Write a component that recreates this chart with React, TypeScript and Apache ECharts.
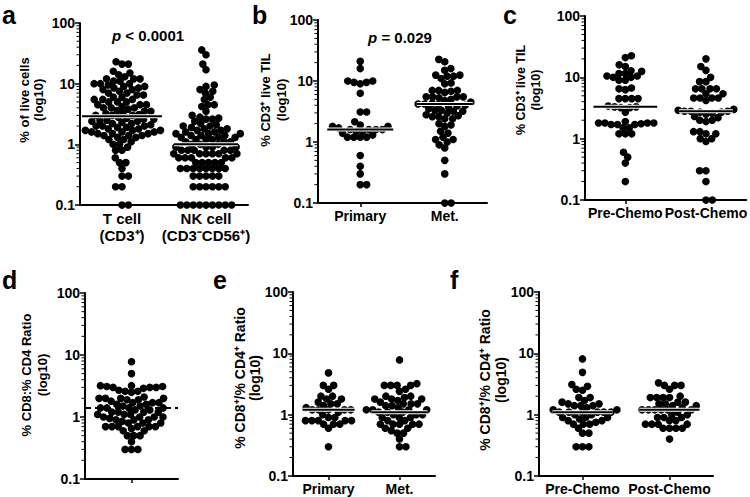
import React, { useEffect, useRef } from "react";
import * as echarts from "echarts";

const FONT = "'Liberation Sans', Arial, Helvetica, sans-serif";

// ---------- data ----------
// Panel a: % of live cells
const catsA = ["T cell\n(CD3⁺)", "NK cell\n(CD3⁻CD56⁺)"];
const aTcell = [23, 21, 21, 16, 15, 14, 13, 12, 12, 12, 11, 11, 10, 10, 10, 9.5, 9, 9, 8.5, 8.5, 8, 8, 7.5, 7, 7, 6.5, 6.5, 6, 6, 5.5, 5.5, 5.5, 5, 5, 5, 4.5, 4.5, 4.5, 4.2, 4, 4, 4, 3.8, 3.6, 3.5, 3.5, 3.3, 3.2, 3.1, 3, 3, 3,
  2.8, 2.7, 2.6, 2.6, 2.5, 2.5, 2.4, 2.4, 2.3, 2.2, 2.2, 2.1, 2, 2, 2, 1.9, 1.9, 1.8, 1.8, 1.8, 1.7, 1.7, 1.7, 1.6, 1.6, 1.6, 1.5, 1.5, 1.5, 1.4, 1.4, 1.4, 1.3, 1.3, 1.2, 1.2, 1.1, 1.0, 1.0, 0.9, 0.8, 0.8, 0.6, 0.5, 0.5, 0.4, 0.3, 0.3, 0.2, 0.2, 0.1, 0.1];
const aNK = [36, 30, 21, 17, 9.5, 9, 8, 7.5, 7, 6, 5.5, 4.5, 4.5, 4.2, 3.5, 3, 2.8, 2.7, 2.6, 2.6, 2.4, 2.2, 2.1, 2, 2, 1.9, 1.8, 1.8, 1.7, 1.7, 1.6, 1.6, 1.5, 1.5, 1.5, 1.4, 1.4, 1.4, 1.3, 1.3, 1.3, 1.2, 1.2, 1.2, 1.1, 1.1, 1.1, 1.0, 1.0, 1.0,
  0.9, 0.9, 0.9, 0.9, 0.8, 0.8, 0.8, 0.8, 0.8, 0.7, 0.7, 0.7, 0.7, 0.7, 0.7, 0.6, 0.6, 0.6, 0.6, 0.6, 0.5, 0.5, 0.5, 0.5, 0.5, 0.4, 0.4, 0.4, 0.4, 0.4, 0.4, 0.4, 0.4, 0.3, 0.3, 0.3, 0.3, 0.3, 0.2, 0.2, 0.2, 0.2, 0.2, 0.2, 0.1, 0.1, 0.1, 0.1, 0.1, 0.1, 0.1, 0.1, 0.1];
const medA = [2.9, 1.0];

// Panel b: % CD3+ live TIL, Primary vs Met.
const catsB = ["Primary", "Met."];
const bPrimary = [21, 16, 10, 10, 9.5, 9.5, 9, 6.3, 3.1, 3.1, 2.15, 1.9, 1.8, 1.8, 1.7, 1.6, 1.6, 1.6, 1.6, 1.5, 1.5, 1.4, 1.3, 1.2, 1.2, 1.2, 1.2, 0.6, 0.4, 0.3, 0.2, 0.2];
const bMet = [22.6, 20.7, 16, 15, 12.5, 12.5, 12, 12, 11, 9.3, 9, 7, 7, 7, 6.8, 6.5, 5.5, 5.5, 5.5, 5.5, 5.3, 5, 4.8, 4.5, 4.3, 4.2, 4.2, 4.1, 4, 3.9, 3.8, 3.5, 3.3, 3.3, 3.2, 3.2, 3, 2.8, 2.7, 2.6, 2.6, 2.4, 2.4, 2, 1.9, 1.8, 1.5, 1.4, 1.2, 1.1, 1.1, 1.0, 0.9, 0.8, 0.5, 0.3, 0.1, 0.1];
const medB = [1.6, 4.2];

// Panel c: % CD3+ live TIL, Pre- vs Post-Chemo
const catsC = ["Pre-Chemo", "Post-Chemo"];
const cPre = [22.5, 21, 16, 15, 12.8, 12.5, 11.5, 10.5, 10, 10, 10.5, 11.5, 9, 9, 6.7, 6.5, 6.3, 4.5, 4.5, 4.5, 4.5, 3.4, 3.3, 3.3, 3.2, 3.2, 2.7, 1.9, 1.8, 1.8, 1.8, 1.8, 1.7, 1.7, 1.7, 1.75, 1.5, 1.5, 1.2, 1.2, 1.2, 0.6, 0.5, 0.4, 0.2];
const cPost = [20, 15, 13, 10, 8.5, 8.5, 6.5, 6.5, 6.5, 6.5, 5.4, 5.4, 4.6, 4.6, 4.6, 4.6, 4.2, 3, 2.9, 2.8, 2.8, 2.8, 2.7, 2.7, 2.6, 2.5, 2.3, 2.2, 2, 2, 1.9, 1.3, 1.3, 1.2, 1.2, 1.0, 1.0, 0.9, 0.3, 0.3, 0.2, 0.1, 0.1];
const medC = [3.3, 2.8];

// Panel d: % CD8 : % CD4 ratio
const catsD = [""];
const dRatio = [7.8, 5, 3.2, 3.2, 3.1, 3.1, 3.0, 3.0, 3.0, 2.9, 2.7, 2.6, 2.6, 2.5, 2.1, 2.0, 2.0, 2.0, 2.0, 1.9, 1.9, 1.8, 1.7, 1.7, 1.7, 1.6, 1.6, 1.5, 1.5, 1.4, 1.4, 1.4, 1.4, 1.3, 1.3, 1.2, 1.2, 1.2, 1.2, 1.1, 1.1, 1.1, 1.0, 1.0, 1.0, 1.0, 0.95, 0.9, 0.9, 0.9, 0.85, 0.8, 0.8, 0.8, 0.7, 0.7, 0.7, 0.7, 0.7, 0.7, 0.65, 0.6, 0.6, 0.5, 0.5, 0.5, 0.4, 0.3, 0.3, 0.3];
const medD = [1.4];

// Panel e: ratio, Primary vs Met.
const catsE = ["Primary", "Met."];
const ePrimary = [4.8, 3.0, 3.0, 2.6, 2.0, 2.0, 1.8, 1.8, 1.6, 1.5, 1.5, 1.4, 1.3, 1.2, 1.2, 1.2, 1.2, 1.2, 1.1, 1.0, 0.9, 0.9, 0.8, 0.8, 0.8, 0.8, 0.8, 0.7, 0.7, 0.7, 0.6, 0.3];
const eMet = [7.8, 3.2, 3.0, 3.0, 3.0, 3.0, 2.6, 2.4, 2.0, 2.0, 1.9, 1.8, 1.8, 1.8, 1.7, 1.6, 1.5, 1.5, 1.5, 1.4, 1.4, 1.3, 1.2, 1.2, 1.2, 1.2, 1.1, 1.1, 1.1, 1.0, 1.0, 1.0, 0.9, 0.9, 0.9, 0.8, 0.8, 0.7, 0.7, 0.7, 0.7, 0.7, 0.6, 0.6, 0.55, 0.5, 0.5, 0.4, 0.3, 0.3];
const medE = [1.2, 1.1];

// Panel f: ratio, Pre- vs Post-Chemo
const catsF = ["Pre-Chemo", "Post-Chemo"];
const fPre = [8.1, 4.9, 3.1, 2.9, 2.6, 2.5, 1.9, 1.9, 1.7, 1.6, 1.5, 1.5, 1.4, 1.4, 1.4, 1.3, 1.2, 1.2, 1.1, 1.1, 1.1, 1.1, 1.1, 1.1, 1.0, 1.0, 0.9, 0.9, 0.9, 0.85, 0.8, 0.8, 0.75, 0.7, 0.7, 0.7, 0.6, 0.5, 0.5, 0.3, 0.3, 0.3];
const fPost = [3.3, 3.0, 3.0, 3.0, 2.6, 2.0, 1.9, 1.9, 1.9, 1.9, 1.6, 1.6, 1.5, 1.5, 1.4, 1.4, 1.3, 1.2, 1.2, 1.2, 1.2, 1.2, 1.2, 1.1, 1.0, 1.0, 0.9, 0.9, 0.9, 0.8, 0.8, 0.7, 0.7, 0.7, 0.7, 0.6, 0.6, 0.6, 0.6, 0.4];
const medF = [1.1, 1.2];

const minorTicks = [0.2, 0.3, 0.4, 0.5, 0.6, 0.7, 0.8, 0.9, 2, 3, 4, 5, 6, 7, 8, 9, 20, 30, 40, 50, 60, 70, 80, 90];

// ---------- layout ----------
type Panel = {
  letter: string; letterX: number; letterY: number;
  left: number; top: number; width: number; height: number;
  cats: string[]; groups: number[][]; med: number[]; medHalf: number[]; dashed?: boolean;
  title: string; titleX: number; titleY: number; titleSize: number; titleLH: number;
  catSize: number;
  p?: { italic: string; rest: string; x: number; y: number };
};

const panels: Panel[] = [
  { letter: "a", letterX: 2, letterY: 15, left: 80, top: 23, width: 168, height: 182, cats: catsA, groups: [aTcell, aNK], med: medA, medHalf: [40, 32],
    title: "% of live cells\n(log10)", titleX: 31, titleY: 100, titleSize: 13, titleLH: 14, catSize: 15,
    p: { italic: "p", rest: " < 0.0001", x: 148, y: 35 } },
  { letter: "b", letterX: 252, letterY: 15, left: 318, top: 20, width: 169, height: 183, cats: catsB, groups: [bPrimary, bMet], med: medB, medHalf: [33, 28],
    title: "% CD3⁺ live TIL\n(log10)", titleX: 273, titleY: 100, titleSize: 13, titleLH: 16, catSize: 14,
    p: { italic: "p", rest: " = 0.029", x: 400, y: 37 } },
  { letter: "c", letterX: 503, letterY: 15, left: 585, top: 16, width: 162, height: 184, cats: catsC, groups: [cPre, cPost], med: medC, medHalf: [32, 27],
    title: "% CD3⁺ live TIL\n(log10)", titleX: 528, titleY: 90, titleSize: 12.5, titleLH: 15, catSize: 14 },
  { letter: "d", letterX: 2, letterY: 280, left: 85, top: 293, width: 93, height: 186, cats: catsD, groups: [dRatio], med: medD, medHalf: [46.5], dashed: true,
    title: "% CD8:% CD4 Ratio\n(log10)", titleX: 34, titleY: 375, titleSize: 13, titleLH: 16, catSize: 14 },
  { letter: "e", letterX: 213, letterY: 280, left: 293, top: 292, width: 142, height: 184, cats: catsE, groups: [ePrimary, eMet], med: medE, medHalf: [26, 28],
    title: "% CD8⁺/% CD4⁺ Ratio\n(log10)", titleX: 247, titleY: 378, titleSize: 14, titleLH: 15, catSize: 14 },
  { letter: "f", letterX: 450, letterY: 280, left: 539, top: 292, width: 174, height: 185, cats: catsF, groups: [fPre, fPost], med: medF, medHalf: [30, 30],
    title: "% CD8⁺/% CD4⁺ Ratio\n(log10)", titleX: 493, titleY: 380, titleSize: 14, titleLH: 16, catSize: 14 },
];

const DOT = 7.6;
const GAP = 6.4;

// greedy beeswarm: horizontal pixel offsets so that dots do not overlap much
function swarm(values: number[], d: number, pxPerDecade: number): number[] {
  const order = values.map((_, i) => i).sort((a, b) => values[a] - values[b]);
  const placed: { x: number; y: number }[] = [];
  const xs = new Array(values.length).fill(0);
  let sum = 0;
  for (const i of order) {
    const y = Math.log10(values[i]) * pxPerDecade;
    const iv: [number, number][] = [];
    for (const p of placed) {
      const dy = Math.abs(p.y - y);
      if (dy < d) {
        const w = Math.sqrt(d * d - dy * dy);
        iv.push([p.x - w, p.x + w]);
      }
    }
    const cands = [0];
    iv.forEach(([a, b]) => cands.push(a, b));
    cands.sort((a, b) => {
      const da = Math.abs(a) - Math.abs(b);
      if (Math.abs(da) > 1e-6) return da;
      return sum > 0 ? a - b : b - a;
    });
    let best = 0;
    for (const c of cands) {
      if (iv.every(([a, b]) => c <= a + 1e-6 || c >= b - 1e-6)) { best = c; break; }
    }
    xs[i] = best;
    sum += best;
    placed.push({ x: best, y });
  }
  return xs;
}

function buildOption() {
  const grid: any[] = [];
  const xAxis: any[] = [];
  const yAxis: any[] = [];
  const series: any[] = [];
  const graphic: any[] = [];

  panels.forEach((p, k) => {
    grid.push({ left: p.left, top: p.top, width: p.width, height: p.height });
    xAxis.push({
      type: "category", gridIndex: k, data: p.cats, boundaryGap: true,
      axisLine: { show: true, onZero: false, lineStyle: { color: "#000", width: 2 } },
      axisTick: { show: true, alignWithLabel: true, length: 4, lineStyle: { color: "#000", width: 1.5 } },
      axisLabel: { color: "#000", fontWeight: "bold", fontSize: p.catSize, fontFamily: FONT, lineHeight: p.catSize + 2, margin: 5, interval: 0 },
      splitLine: { show: false },
    });
    xAxis.push({ type: "value", gridIndex: k, min: -0.5, max: p.cats.length - 0.5, show: false,
      axisLine: { show: false, onZero: false }, splitLine: { show: false } });
    yAxis.push({
      type: "log", logBase: 10, gridIndex: k, min: 0.1, max: 100,
      axisLine: { show: true, onZero: false, lineStyle: { color: "#000", width: 2 } },
      axisTick: { show: true, length: 5, lineStyle: { color: "#000", width: 1.5 } },
      axisLabel: { color: "#000", fontWeight: "bold", fontSize: 14, fontFamily: FONT, margin: 5,
        formatter: (v: number) => String(+Number(v).toPrecision(3)) },
      splitLine: { show: false },
      minorTick: { show: false },
    });
    const xi = 2 * k + 1;
    const upp = p.cats.length / p.width;
    const decade = p.height / 3;
    p.groups.forEach((vals, gi) => {
      const offs = swarm(vals, GAP, decade);
      series.push({
        type: "scatter", xAxisIndex: xi, yAxisIndex: k, symbol: "circle", symbolSize: DOT,
        itemStyle: { color: "#000", opacity: 1 }, silent: true, z: 2,
        data: vals.map((v, j) => [gi + offs[j] * upp, v]),
      });
      const m = p.med[gi];
      const hw = p.medHalf[gi] * upp;
      const seg = [[gi - hw, m], [gi + hw, m]];
      if (!p.dashed) {
        series.push({ type: "line", xAxisIndex: xi, yAxisIndex: k, data: seg, symbol: "none", silent: true, z: 3,
          lineStyle: { color: "#fff", width: 4 } });
      }
      series.push({ type: "line", xAxisIndex: xi, yAxisIndex: k, data: seg, symbol: "none", silent: true, z: 4,
        lineStyle: { color: "#000", width: 2, type: p.dashed ? [6, 4] : "solid" } });
    });
    // minor log ticks on the y axis
    series.push({
      type: "custom", xAxisIndex: xi, yAxisIndex: k, silent: true, z: 5,
      data: minorTicks.map((v) => [-0.5, v]),
      renderItem: (_params: any, api: any) => {
        const pt = api.coord([api.value(0), api.value(1)]);
        return { type: "line", shape: { x1: pt[0] - 1, y1: pt[1], x2: pt[0] - 3.5, y2: pt[1] }, style: { stroke: "#000", lineWidth: 1 } };
      },
    });

    graphic.push({
      type: "text", x: p.letterX, y: p.letterY, silent: true,
      style: { text: p.letter, fontSize: 25, fontWeight: "bold", fontFamily: FONT, fill: "#000",
        align: "left", textAlign: "left", verticalAlign: "middle", textVerticalAlign: "middle" },
    });
    graphic.push({
      type: "text", x: p.titleX, y: p.titleY, rotation: Math.PI / 2, silent: true,
      style: { text: p.title, fontSize: p.titleSize, fontWeight: "bold", fontFamily: FONT, fill: "#000", lineHeight: p.titleLH,
        align: "center", textAlign: "center", verticalAlign: "middle", textVerticalAlign: "middle" },
    });
    if (p.p) {
      graphic.push({
        type: "text", x: p.p.x, y: p.p.y, silent: true,
        style: {
          text: `{i|${p.p.italic}}{n|${p.p.rest}}`,
          rich: {
            i: { fontSize: 15, fontWeight: "bold", fontStyle: "italic", fontFamily: FONT, fill: "#000" },
            n: { fontSize: 15, fontWeight: "bold", fontFamily: FONT, fill: "#000" },
          },
          fontSize: 15, fontWeight: "bold", fontFamily: FONT, fill: "#000",
          align: "center", textAlign: "center", verticalAlign: "middle", textVerticalAlign: "middle",
        },
      });
    }
  });

  return {
    animation: false,
    backgroundColor: "#fff",
    textStyle: { fontFamily: FONT },
    grid, xAxis, yAxis, series, graphic,
  };
}

export default function App() {
  const ref = useRef<HTMLDivElement>(null);
  useEffect(() => {
    if (!ref.current) return;
    const chart = echarts.init(ref.current, undefined, { renderer: "svg" });
    chart.setOption(buildOption() as any);
    return () => chart.dispose();
  }, []);
  return <div ref={ref} style={{ position: "absolute", left: 0, top: 0, width: 750, height: 497 }} />;
}
